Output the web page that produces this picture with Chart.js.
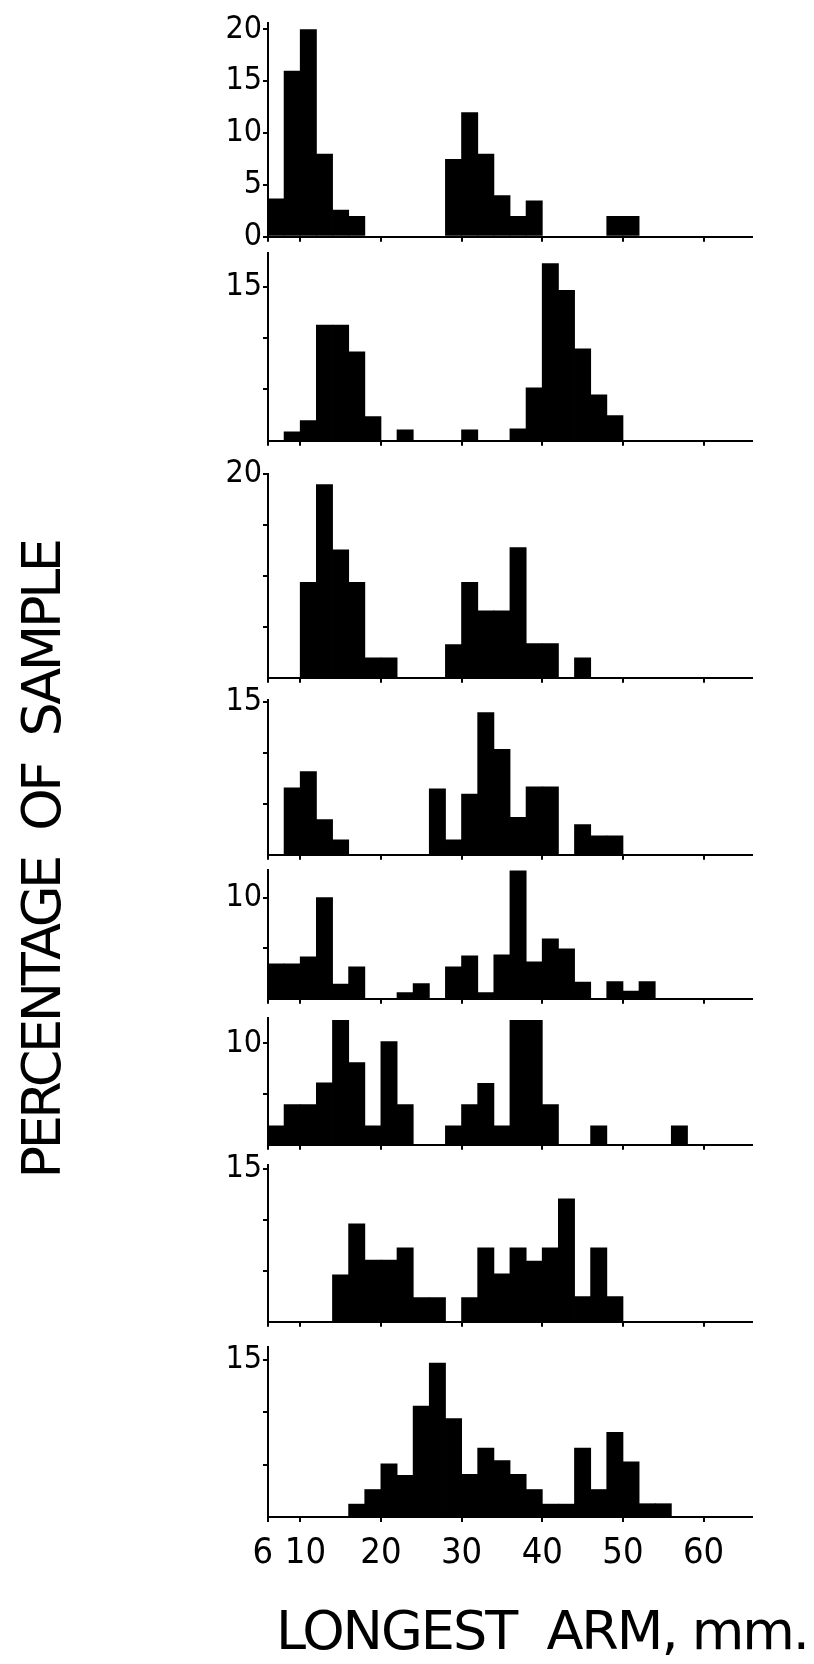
<!DOCTYPE html>
<html><head><meta charset="utf-8">
<script src="https://cdn.jsdelivr.net/npm/chart.js@4.4.0/dist/chart.umd.min.js"></script>
<style>
html,body{margin:0;padding:0;background:#fff;}
#wrap{position:relative;width:814px;height:1664px;overflow:hidden;background:#fff;}
canvas{position:absolute;left:0;}
.ttl{position:absolute;font-family:"DejaVu Sans",sans-serif;color:#000;white-space:pre;line-height:1;}
#ytitle{left:42px;top:860px;transform:translate(-50%,-50%) rotate(-90deg);font-size:54px;}
#xtitle{left:276px;top:1604px;font-size:54px;}
</style></head>
<body><div id="wrap">
<div id="ytitle" class="ttl">PERCENTAGE  OF  SAMPLE</div>
<div id="xtitle" class="ttl">LONGEST  ARM, mm.</div>
</div>
<script>
// Bin centres (2 mm classes, 6–66 mm)
const binCenters = [7,9,11,13,15,17,19,21,23,25,27,29,31,33,35,37,39,41,43,45,47,49,51,53,55,57,59,61,63,65];
// Percentage of sample in each bin, one array per sample (top to bottom)
const sample1 = [3.7,16,20,8,2.6,2,0,0,0,0,0,7.5,12,8,4,2,3.5,0,0,0,0,2,2,0,0,0,0,0,0,0];
const sample2 = [0,0.9,2,11.3,11.3,8.7,2.4,0,1.1,0,0,0,1.1,0,0,1.2,5.2,17.3,14.7,9,4.5,2.5,0,0,0,0,0,0,0,0];
const sample3 = [0,0,9.4,19,12.6,9.4,2,2,0,0,0,3.3,9.4,6.6,6.6,12.8,3.4,3.4,0,2,0,0,0,0,0,0,0,0,0,0];
const sample4 = [0,6.6,8.2,3.5,1.5,0,0,0,0,0,6.5,1.5,6,14,10.4,3.7,6.7,6.7,0,3,1.9,1.9,0,0,0,0,0,0,0,0];
const sample5 = [3.5,3.5,4.2,10.1,1.5,3.2,0,0,0.65,1.55,0,3.2,4.3,0.65,4.4,12.75,3.7,6,5,1.7,0,1.75,0.8,1.75,0,0,0,0,0,0];
const sample6 = [1.9,4,4,6.15,12.3,8.15,1.9,10.2,4,0,0,1.9,4,6.1,1.9,12.3,12.3,4,0,0,1.9,0,0,0,0,1.9,0,0,0,0];
const sample7 = [0,0,0,0,4.65,9.65,6.1,6.1,7.3,2.4,2.4,0,2.4,7.3,4.75,7.3,6,7.3,12.1,2.5,7.3,2.5,0,0,0,0,0,0,0,0];
const sample8 = [0,0,0,0,0,1.26,2.65,5.1,4,10.6,14.7,9.4,4.1,6.6,5.4,4.1,2.65,1.26,1.26,6.6,2.65,8.1,5.3,1.3,1.3,0,0,0,0,0];
const samples = [sample1,sample2,sample3,sample4,sample5,sample6,sample7,sample8];

// Axis ticks and labels
const xTickValues = [6,10,20,30,40,50,60];
const xTickLabels = ['6 ',' 10','20','30','40','50','60'];
const yMax = [20.6,18.3,20,15.2,12.8,12.5,15.4,16.2];
const yTicks = [[0,5,10,15,20],[5,10,15],[5,10,15,20],[5,10,15],[5,10],[5,10],[5,10,15],[5,10,15]];
const yLabels = [[0,5,10,15,20],[15],[20],[15],[10],[10],[15],[15]];

// Layout (pixel positions of each panel's plot area)
const panelTop    = [23,253,474,700,870,1018,1165,1347];
const panelBottom = [245,449,686,863,1007,1153,1330,1517];

const tickFont = '"Liberation Sans Narrow","DejaVu Sans Condensed","Roboto Condensed",sans-serif';
const wrap = document.getElementById('wrap');

function makePanel(i){
  const isLast = i === samples.length - 1;
  const xH = isLast ? 66 : 12;
  const padTop = 24;
  const h = (panelBottom[i] - panelTop[i]) + padTop + xH;
  const c = document.createElement('canvas');
  c.width = 814; c.height = h;
  c.style.width = '814px'; c.style.height = h + 'px';
  c.style.top = (panelTop[i] - padTop) + 'px';
  wrap.appendChild(c);
  new Chart(c, {
    type: 'bar',
    data: { datasets: [{
      data: binCenters.map((x,k) => ({x: x, y: samples[i][k]})),
      backgroundColor: '#000', borderWidth: 0,
      barPercentage: 1.05, categoryPercentage: 1
    }]},
    options: {
      responsive: false, animation: false, devicePixelRatio: 1,
      layout: { padding: { top: padTop, right: 62, left: 0, bottom: 0 } },
      plugins: { legend: { display: false }, tooltip: { enabled: false } },
      scales: {
        x: {
          type: 'linear', min: 6, max: 66, offset: false,
          afterBuildTicks: s => { s.ticks = xTickValues.map(v => ({ value: v })); },
          afterFit: s => { s.height = xH; },
          ticks: {
            display: isLast, autoSkip: false, maxRotation: 0, minRotation: 0,
            color: '#000', padding: 10, font: { family: tickFont, size: 36 },
            callback: v => { const k = xTickValues.indexOf(v); return k >= 0 ? xTickLabels[k] : ''; }
          },
          grid: { display: true, offset: false, drawOnChartArea: false, drawTicks: true, tickLength: 5, color: '#000', lineWidth: 2 },
          border: { display: true, color: '#000', width: 2 }
        },
        y: {
          min: 0, max: yMax[i],
          afterBuildTicks: s => { s.ticks = yTicks[i].map(v => ({ value: v })); },
          afterFit: s => { s.width = 268; },
          ticks: {
            color: '#000', padding: 1, font: { family: tickFont, size: 32 },
            callback: v => yLabels[i].indexOf(v) >= 0 ? String(v) : ''
          },
          grid: { display: true, offset: false, drawOnChartArea: false, drawTicks: true, tickLength: 5, color: '#000', lineWidth: 2 },
          border: { display: true, color: '#000', width: 2 }
        }
      }
    }
  });
}
for (let i = 0; i < samples.length; i++) makePanel(i);

function fitText(el, target){
  el.style.letterSpacing = '0px';
  const w = el.getBoundingClientRect();
  const n = el.textContent.length;
  const cur = el.id === 'ytitle' ? w.height : w.width;
  el.style.letterSpacing = ((target - cur) / n) + 'px';
}
fitText(document.getElementById('xtitle'), 532);
fitText(document.getElementById('ytitle'), 637);
</script>
</body></html>
